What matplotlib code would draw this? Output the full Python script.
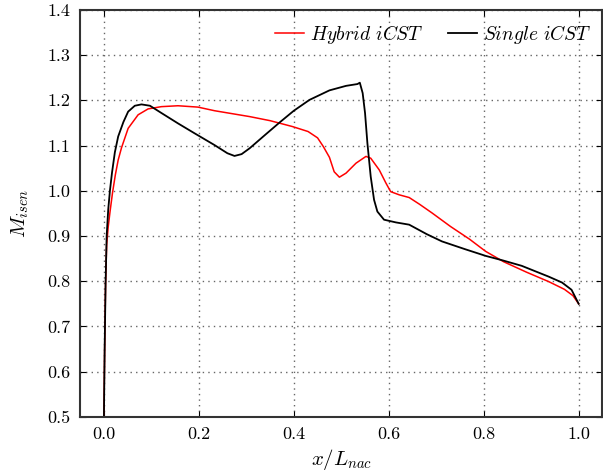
#!/usr/bin/env python3
import matplotlib
matplotlib.use('Agg')
import matplotlib.pyplot as plt

# curves (x / L_nac, isentropic Mach number)
x_single = [0.0, 0.0015, 0.0035, 0.0057, 0.009, 0.0126, 0.017, 0.023, 0.030, 0.041,
            0.051, 0.065, 0.079, 0.097, 0.121, 0.156, 0.191, 0.233, 0.26, 0.275,
            0.29, 0.307, 0.34, 0.37, 0.40, 0.433, 0.475, 0.510, 0.534, 0.539,
            0.545, 0.550, 0.555, 0.562, 0.569, 0.576, 0.590, 0.615, 0.643, 0.68,
            0.712, 0.76, 0.804, 0.84, 0.88, 0.937, 0.965, 0.985, 1.0]
m_single = [0.5, 0.65, 0.796, 0.899, 0.958, 1.0, 1.04, 1.085, 1.12, 1.152,
            1.175, 1.188, 1.191, 1.188, 1.172, 1.149, 1.127, 1.101, 1.083, 1.077,
            1.081, 1.094, 1.124, 1.151, 1.177, 1.201, 1.222, 1.232, 1.236, 1.239,
            1.216, 1.172, 1.105, 1.031, 0.980, 0.954, 0.936, 0.930, 0.925, 0.904,
            0.888, 0.871, 0.856, 0.846, 0.834, 0.81, 0.797, 0.781, 0.75]

x_hybrid = [0.0, 0.0015, 0.0035, 0.0057, 0.009, 0.013, 0.018, 0.024, 0.030, 0.037,
            0.051, 0.072, 0.093, 0.121, 0.156, 0.198, 0.233, 0.307, 0.35, 0.397,
            0.43, 0.45, 0.462, 0.475, 0.485, 0.496, 0.510, 0.531, 0.552, 0.562,
            0.580, 0.594, 0.604, 0.622, 0.643, 0.665, 0.691, 0.73, 0.77, 0.804,
            0.842, 0.89, 0.937, 0.97, 0.988, 1.0]
m_hybrid = [0.5, 0.65, 0.796, 0.88, 0.92, 0.955, 0.995, 1.035, 1.068, 1.095,
            1.138, 1.168, 1.181, 1.186, 1.188, 1.185, 1.177, 1.164, 1.155, 1.142,
            1.131, 1.117, 1.098, 1.074, 1.042, 1.030, 1.039, 1.061, 1.076, 1.072,
            1.046, 1.017, 0.998, 0.991, 0.985, 0.97, 0.951, 0.921, 0.893, 0.866,
            0.843, 0.82, 0.799, 0.782, 0.768, 0.75]

xticks = [0.0, 0.2, 0.4, 0.6, 0.8, 1.0]
yticks = [0.5, 0.6, 0.7, 0.8, 0.9, 1.0, 1.1, 1.2, 1.3, 1.4]

plt.rcParams['font.family'] = 'serif'
plt.rcParams['font.serif'] = ['cmr10']
plt.rcParams['mathtext.fontset'] = 'cm'
plt.rcParams['axes.unicode_minus'] = False
plt.rcParams['axes.formatter.use_mathtext'] = True

fig = plt.figure(figsize=(6.03, 4.71), dpi=100)
ax = fig.add_axes([0.133, 0.115, 0.866, 0.864])

ax.plot(x_hybrid, m_hybrid, color='red', lw=1.1, label=r'$Hybrid\ iCST$')
ax.plot(x_single, m_single, color='black', lw=1.3, label=r'$Single\ iCST$')

ax.set_xlim(-0.05, 1.05)
ax.set_ylim(0.5, 1.4)
ax.set_xticks(xticks)
ax.set_yticks(yticks)
ax.set_xticklabels(['%.1f' % v for v in xticks])
ax.set_yticklabels(['%.1f' % v for v in yticks])
ax.tick_params(direction='in', top=True, right=True, labelsize=13, length=4, pad=7)
ax.grid(True, linestyle=(0, (1, 3)), color='0.4', lw=1.0)
for s in ax.spines.values():
    s.set_linewidth(1.5)
    s.set_color('0.2')

ax.set_xlabel(r'$x/L_{nac}$', fontsize=15)
ax.set_ylabel(r'$M_{isen}$', fontsize=15, labelpad=12)

ax.legend(loc='upper right', ncol=2, frameon=False, fontsize=14,
          handlelength=1.5, handletextpad=0.3, columnspacing=1.25,
          bbox_to_anchor=(1.012, 1.012))

fig.savefig('out.png', dpi=100)
